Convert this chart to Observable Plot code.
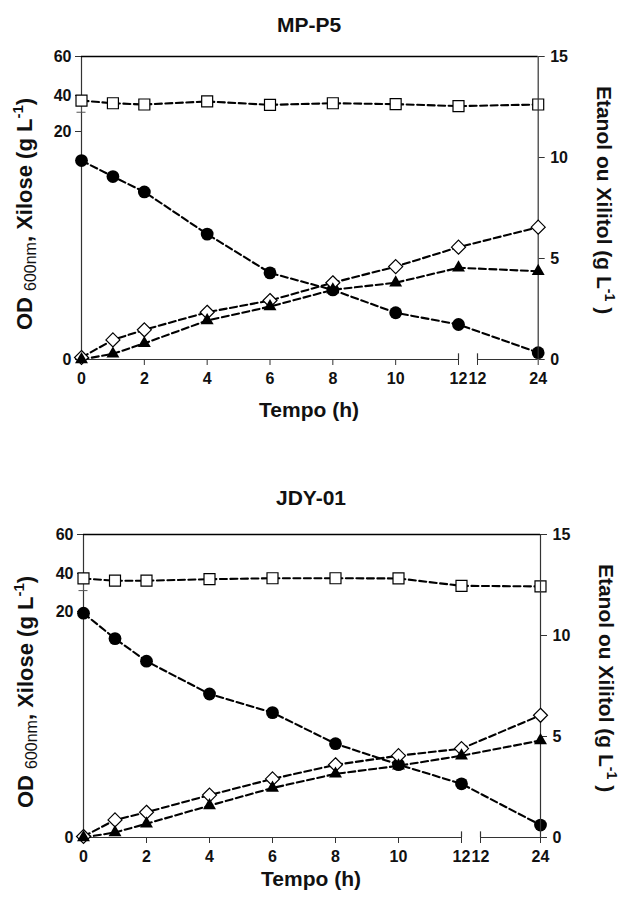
<!DOCTYPE html>
<html><head><meta charset="utf-8">
<script src="https://cdn.jsdelivr.net/npm/d3@7"></script>
<script src="https://cdn.jsdelivr.net/npm/@observablehq/plot@0.6"></script>
<style>
body{margin:0;background:#fff;}
#chart{position:relative;width:622px;height:898px;font-family:"Liberation Sans",Arial,sans-serif;}
.panel{position:absolute;left:0;width:622px;}
.panel svg{position:absolute;left:0;top:0;background:transparent;}
</style></head><body><div id="chart"></div>
<script>
// ---- data ----
const hours = [0, 1, 2, 4, 6, 8, 10, 12, 24];
const xTickValues = [0, 2, 4, 6, 8, 10, 12];
const leftTicks = [0, 20, 40, 60];
const rightTicks = [0, 5, 10, 15];

const mpTitle = "MP-P5";
const mpSquares   = [37.2, 35.7, 35.0, 36.7, 34.8, 35.7, 35.2, 34.1, 35.0];
const mpCircles   = [17.45, 16.05, 14.7, 11.0, 7.6, 6.1, 4.1, 3.07, 0.6];
const mpDiamonds  = [0.1, 0.97, 1.47, 2.34, 2.92, 3.8, 4.6, 5.56, 6.55];
const mpTriangles = [0, 0.28, 0.8, 1.93, 2.62, 3.45, 3.8, 4.54, 4.37];
const mpSquareErr0 = 6.5;

const jdyTitle = "JDY-01";
const jdySquares   = [37.4, 36.2, 36.2, 37.0, 37.5, 37.5, 37.4, 33.5, 33.2];
const jdyCircles   = [19.85, 17.6, 15.6, 12.7, 11.05, 8.3, 6.45, 4.75, 1.1];
const jdyDiamonds  = [0.05, 0.87, 1.25, 2.1, 2.9, 3.6, 4.05, 4.4, 6.05];
const jdyTriangles = [0, 0.25, 0.68, 1.58, 2.45, 3.15, 3.55, 4.05, 4.8];
const jdySquareErr0 = 6.4;

// axis position that stands for the "12" opening the compressed 12–24 h segment
const SEG2 = 13;

const FONT = "Liberation Sans, Arial, sans-serif";
const DASH = "7,3.5";

function buildPanel(container, cfg, d) {
  const rows = hours.map((t, i) => ({t, sq: d.sq[i], ci: d.ci[i], di: d.di[i], tr: d.tr[i]}));
  const xOpt = {type: "linear", domain: [0, 12, SEG2, 24], range: [cfg.x0, cfg.x12, cfg.x12b, cfg.x24], axis: null};
  const style = {fontFamily: FONT, fontSize: "16px", fontWeight: "bold", background: "transparent", overflow: "visible"};
  const axisStroke = "#333";
  const margins = {marginLeft: cfg.x0, marginRight: 622 - cfg.x24, marginTop: cfg.y60, marginBottom: cfg.h - cfg.y0};

  const left = Plot.plot({
    width: 622, height: cfg.h, style, ...margins,
    x: xOpt,
    y: {type: "linear", domain: [0, 20, 40, 60], range: [cfg.y0, cfg.y20, cfg.y40, cfg.y60], axis: null},
    marks: [
      Plot.ruleX([0], {y1: 0, y2: 60, stroke: axisStroke, strokeWidth: 1.2}),
      Plot.ruleY([60], {x1: 0, x2: 24, stroke: "#000", strokeWidth: 1.6}),
      Plot.ruleY([0], {x1: 0, x2: 12, stroke: axisStroke, strokeWidth: 1.2}),
      Plot.ruleY([0], {x1: SEG2, x2: 24, stroke: axisStroke, strokeWidth: 1.2}),
      Plot.ruleX([12, SEG2], {y1: 0, y2: 0.5, stroke: axisStroke, strokeWidth: 1.2}),
      Plot.axisY(leftTicks, {anchor: "left", tickSize: 6, tickPadding: 4, stroke: axisStroke, fill: "#111", fontSize: 16, fontWeight: "bold", label: null}),
      Plot.axisX([...xTickValues, SEG2, 24], {anchor: "bottom", tickSize: 6, tickPadding: 7, stroke: axisStroke, fill: "#111", fontSize: 16, fontWeight: "bold", label: null,
        tickFormat: v => v === SEG2 ? "12" : String(v)}),
      // error bar (lower half) on first square
      Plot.ruleX([rows[0]], {x: "t", y1: "sq", y2: r => r.sq - d.err0, stroke: "#555", strokeWidth: 1}),
      Plot.ruleY([rows[0]], {x1: "t", x2: "t", y: r => r.sq - d.err0, insetLeft: -4.5, insetRight: -4.5, stroke: "#555", strokeWidth: 1}),
      Plot.line(rows, {x: "t", y: "sq", stroke: "#000", strokeWidth: 2.1, strokeDasharray: DASH}),
      Plot.line(rows, {x: "t", y: "ci", stroke: "#000", strokeWidth: 2.1, strokeDasharray: DASH}),
      Plot.dot(rows, {x: "t", y: "sq", symbol: "square", r: 6.2, fill: "#fff", stroke: "#000", strokeWidth: 1.2}),
      Plot.dot(rows, {x: "t", y: "ci", symbol: "circle", r: 6.4, fill: "#000", stroke: "none"})
    ]
  });

  const right = Plot.plot({
    width: 622, height: cfg.h, style, ...margins,
    x: xOpt,
    y: {type: "linear", domain: [0, 15], range: [cfg.y0, cfg.y60], axis: null},
    marks: [
      Plot.ruleX([24], {y1: 0, y2: 15, stroke: axisStroke, strokeWidth: 1.2}),
      Plot.axisY(rightTicks, {anchor: "right", tickSize: 6, tickPadding: 6, stroke: axisStroke, fill: "#111", fontSize: 16, fontWeight: "bold", label: null}),
      Plot.line(rows, {x: "t", y: "di", stroke: "#000", strokeWidth: 2.1, strokeDasharray: DASH}),
      Plot.line(rows, {x: "t", y: "tr", stroke: "#000", strokeWidth: 2.1, strokeDasharray: DASH}),
      Plot.dot(rows, {x: "t", y: "di", symbol: "diamond2", r: 6.3, fill: "#fff", stroke: "#000", strokeWidth: 1.2}),
      Plot.dot(rows, {x: "t", y: "tr", symbol: "triangle", r: 4.8, fill: "#000", stroke: "none"})
    ]
  });

  const div = document.createElement("div");
  div.className = "panel";
  div.style.top = cfg.top + "px";
  div.style.height = cfg.h + "px";
  div.appendChild(left);
  div.appendChild(right);
  container.appendChild(div);

  const s = d3.select(right);
  const tf = {"font-family": FONT, "font-weight": "bold", "fill": "#111"};
  const applyAttrs = (sel, a) => { for (const k in a) sel.attr(k, a[k]); return sel; };

  applyAttrs(s.append("text"), tf).attr("x", cfg.titleX).attr("y", cfg.titleY)
    .attr("text-anchor", "middle").attr("font-size", 21).text(d.title);
  applyAttrs(s.append("text"), tf).attr("x", cfg.titleX).attr("y", cfg.tempoY)
    .attr("text-anchor", "middle").attr("font-size", 21).text("Tempo (h)");

  const ly = applyAttrs(s.append("text"), tf).attr("text-anchor", "middle").attr("font-size", 22)
    .attr("transform", `translate(${cfg.leftLabelX},${cfg.leftLabelY}) rotate(-90)`);
  ly.append("tspan").text("OD ");
  ly.append("tspan").attr("font-size", 16).attr("font-weight", "normal").attr("dy", 4).text("600nm");
  ly.append("tspan").attr("dy", -4).text(", Xilose (g L");
  ly.append("tspan").attr("font-size", 15).attr("dy", -9).text("-1");
  ly.append("tspan").attr("dy", 9).text(")");

  const ry = applyAttrs(s.append("text"), tf).attr("text-anchor", "middle").attr("font-size", 21)
    .attr("transform", `translate(${cfg.rightLabelX},${cfg.rightLabelY}) rotate(90)`);
  ry.append("tspan").text("Etanol ou Xilitol (g L");
  ry.append("tspan").attr("font-size", 14).attr("dy", -8).text("-1");
  ry.append("tspan").attr("dy", 8).text(" )");
}

const chart = document.getElementById("chart");
buildPanel(chart,
  {top: 0, h: 449, x0: 81, x12: 458, x12b: 477, x24: 537.7, y0: 359, y20: 131, y40: 95, y60: 56,
   titleX: 309, titleY: 32, tempoY: 417, leftLabelX: 32, leftLabelY: 214, rightLabelX: 597, rightLabelY: 200},
  {title: mpTitle, sq: mpSquares, ci: mpCircles, di: mpDiamonds, tr: mpTriangles, err0: mpSquareErr0});
buildPanel(chart,
  {top: 449, h: 449, x0: 83, x12: 461, x12b: 480, x24: 540, y0: 388, y20: 162, y40: 124, y60: 85,
   titleX: 311, titleY: 56, tempoY: 437, leftLabelX: 33, leftLabelY: 243, rightLabelX: 599, rightLabelY: 229},
  {title: jdyTitle, sq: jdySquares, ci: jdyCircles, di: jdyDiamonds, tr: jdyTriangles, err0: jdySquareErr0});
</script></body></html>
